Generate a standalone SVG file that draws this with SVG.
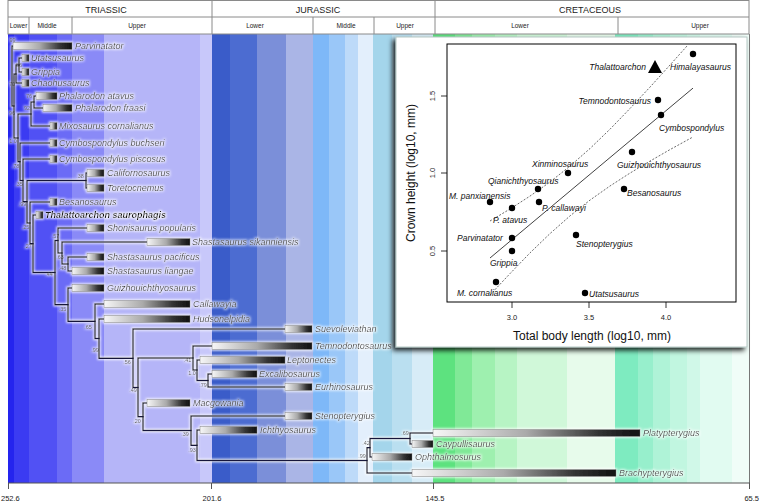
<svg xmlns="http://www.w3.org/2000/svg" width="760" height="504" viewBox="0 0 760 504">
<style>
.hdr{font-family:"Liberation Sans",Arial,sans-serif;font-size:9px;fill:#222;text-anchor:middle}
.sub{font-family:"Liberation Sans",Arial,sans-serif;font-size:6.5px;fill:#222;text-anchor:middle}
.hl{stroke:#8a8a8a;stroke-width:1;fill:none}
.tx{font-family:"Liberation Sans",Arial,sans-serif;font-style:italic;font-size:9px;fill:#151515}
.bar{fill:url(#bg);stroke:#777;stroke-width:0.5}
.br{fill:none;stroke:#15183a;stroke-width:1.5;stroke-linecap:square}
.sup{font-family:"Liberation Sans",Arial,sans-serif;font-size:5.5px;fill:#333;text-anchor:middle}
.ax{font-family:"Liberation Sans",Arial,sans-serif;font-size:7.5px;fill:#222;text-anchor:middle}
.pl{font-family:"Liberation Sans",Arial,sans-serif;font-style:italic;font-size:8.5px;fill:#111}
.ttl{font-family:"Liberation Sans",Arial,sans-serif;font-size:12px;fill:#111;text-anchor:middle}
.pt{fill:#000}
.dash{fill:none;stroke:#444;stroke-width:0.8;stroke-dasharray:2 1.6}
</style>
<defs>
<linearGradient id="bg" x1="0" y1="0" x2="1" y2="0">
<stop offset="0" stop-color="#f7f7f7"/>
<stop offset="0.45" stop-color="#aaaaaa"/>
<stop offset="0.8" stop-color="#333333"/>
<stop offset="1" stop-color="#111111"/>
</linearGradient>
<filter id="halo" filterUnits="userSpaceOnUse" x="0" y="30" width="760" height="470">
<feMorphology in="SourceAlpha" operator="dilate" radius="1" result="d"/>
<feGaussianBlur in="d" stdDeviation="1.3" result="b"/>
<feFlood flood-color="#ffffff" flood-opacity="0.85"/>
<feComposite in2="b" operator="in" result="g"/>
<feMerge><feMergeNode in="g"/><feMergeNode in="SourceGraphic"/></feMerge>
</filter>
<filter id="shadow" x="-6%" y="-6%" width="112%" height="114%">
<feDropShadow dx="-3" dy="3" stdDeviation="2.5" flood-color="#000" flood-opacity="0.85"/>
</filter>
</defs>

<g id="bands">
<rect x="8" y="34" width="6" height="449" fill="#2424ee"/>
<rect x="14" y="34" width="15" height="449" fill="#3b3bf2"/>
<rect x="29" y="34" width="28" height="449" fill="#5151f4"/>
<rect x="57" y="34" width="15" height="449" fill="#6b6bf6"/>
<rect x="72" y="34" width="32" height="449" fill="#8a8af7"/>
<rect x="104" y="34" width="96" height="449" fill="#b5b5f8"/>
<rect x="200" y="34" width="12" height="449" fill="#c8c8fa"/>
<rect x="212" y="34" width="18" height="449" fill="#3a5cc9"/>
<rect x="230" y="34" width="27" height="449" fill="#4c6cd1"/>
<rect x="257" y="34" width="29" height="449" fill="#7b8fd9"/>
<rect x="286" y="34" width="27" height="449" fill="#aab5e6"/>
<rect x="313" y="34" width="16" height="449" fill="#7eb8f8"/>
<rect x="329" y="34" width="16" height="449" fill="#9ac7f8"/>
<rect x="345" y="34" width="13" height="449" fill="#bddaf9"/>
<rect x="358" y="34" width="15" height="449" fill="#e3effc"/>
<rect x="373" y="34" width="19" height="449" fill="#a4d5eb"/>
<rect x="392" y="34" width="20" height="449" fill="#badff0"/>
<rect x="412" y="34" width="21" height="449" fill="#d7ecf7"/>
<rect x="433" y="34" width="22" height="449" fill="#5de27f"/>
<rect x="455" y="34" width="17" height="449" fill="#80e997"/>
<rect x="472" y="34" width="23" height="449" fill="#9ef0af"/>
<rect x="495" y="34" width="22" height="449" fill="#b7f4c4"/>
<rect x="517" y="34" width="50" height="449" fill="#d0f8d9"/>
<rect x="567" y="34" width="48" height="449" fill="#e7fbeb"/>
<rect x="615" y="34" width="23" height="449" fill="#7eebc0"/>
<rect x="638" y="34" width="15" height="449" fill="#97efcc"/>
<rect x="653" y="34" width="17" height="449" fill="#aff3d7"/>
<rect x="670" y="34" width="17" height="449" fill="#c1f6e0"/>
<rect x="687" y="34" width="13" height="449" fill="#d0f8e8"/>
<rect x="700" y="34" width="32" height="449" fill="#e1fbf1"/>
<rect x="732" y="34" width="17" height="449" fill="#f0fdf8"/>
<path d="M749.5 34V483" stroke="#777" stroke-width="1"/>
</g>

<g id="header">
<rect x="8" y="0.5" width="741" height="33.5" fill="#fff" stroke="#8a8a8a"/>
<path class="hl" d="M8 17H749 M212 0.5V34 M435 0.5V34 M29 17V34 M72 17V34 M313 17V34 M374 17V34 M618 17V34"/>
<text class="hdr" x="106" y="13">TRIASSIC</text>
<text class="hdr" x="318" y="13">JURASSIC</text>
<text class="hdr" x="590" y="13">CRETACEOUS</text>
<text class="sub" x="18.5" y="28">Lower</text>
<text class="sub" x="47" y="28">Middle</text>
<text class="sub" x="137" y="28">Upper</text>
<text class="sub" x="255" y="28">Lower</text>
<text class="sub" x="346" y="28">Middle</text>
<text class="sub" x="405" y="28">Upper</text>
<text class="sub" x="520" y="28">Lower</text>
<text class="sub" x="700" y="28">Upper</text>
</g>

<g id="axis">
<path d="M8 483H750 M8.5 483V489 M211.5 483V489 M433.5 483V489 M749.5 483V489" stroke="#555" stroke-width="1" fill="none"/>
<text class="ax" x="1" y="501" style="text-anchor:start">252.6</text>
<text class="ax" x="212" y="501">201.6</text>
<text class="ax" x="435" y="501">145.5</text>
<text class="ax" x="759" y="501" style="text-anchor:end">65.5</text>
</g>

<g id="tree" filter="url(#halo)">
<g id="connectors">
<path class="br" d="M12 46V106 M12 46H13 M12 106H14"/>
<path class="br" d="M14 74V137.9 M14 74H16 M14 137.9H18"/>
<path class="br" d="M16 65V83 M16 65H19 M16 83H22"/>
<path class="br" d="M19 58V72 M19 58H22 M19 72H22"/>
<path class="br" d="M18 114V161.7 M18 114H31 M18 161.7H20"/>
<path class="br" d="M31 102V126 M31 102H34 M31 126H50"/>
<path class="br" d="M34 96V108 M34 96H36 M34 108H43"/>
<path class="br" d="M20 143V180.4 M20 143H50 M20 180.4H23"/>
<path class="br" d="M23 159V201.7 M23 159H50 M23 201.7H27"/>
<path class="br" d="M27 180.5V222.9 M27 180.5H86 M27 222.9H30"/>
<path class="br" d="M86 173V188 M86 173H87 M86 188H87"/>
<path class="br" d="M30 202V243.8 M30 202H50 M30 243.8H33"/>
<path class="br" d="M33 215V272.6 M33 215H36 M33 272.6H55"/>
<path class="br" d="M55 240.5V304.7 M55 240.5H58 M55 304.7H68"/>
<path class="br" d="M58 228V253 M58 228H87 M58 253H62"/>
<path class="br" d="M62 242V264 M62 242H147 M62 264H68"/>
<path class="br" d="M68 257V271 M68 257H87 M68 271H72"/>
<path class="br" d="M68 288V321.3 M68 288H72 M68 321.3H95"/>
<path class="br" d="M95 304V338.6 M95 304H104 M95 338.6H99"/>
<path class="br" d="M99 319V358.2 M99 319H104 M99 358.2H133"/>
<path class="br" d="M133 329V387.4 M133 329H285 M133 387.4H138"/>
<path class="br" d="M138 358V416.8 M138 358H193 M138 416.8H143"/>
<path class="br" d="M193 346V370 M193 346H212 M193 370H197"/>
<path class="br" d="M197 360V380.5 M197 360H200 M197 380.5H208"/>
<path class="br" d="M208 374V387 M208 374H212 M208 387H285"/>
<path class="br" d="M143 403V430.6 M143 403H147 M143 430.6H191"/>
<path class="br" d="M191 416V445.2 M191 416H285 M191 445.2H197"/>
<path class="br" d="M197 430V460.4 M197 430H200 M197 460.4H367"/>
<path class="br" d="M367 447.8V473 M367 447.8H370 M367 473H412"/>
<path class="br" d="M370 438.5V457 M370 438.5H410 M370 457H372"/>
<path class="br" d="M410 433V444 M410 433H433 M410 444H412"/>
</g>

<g id="t-parvinatator"><rect class="bar" x="13" y="42.5" width="59" height="7"/><text class="tx" x="75" y="49">Parvinatator</text></g>
<g id="t-utatsusaurus"><rect class="bar" x="22" y="54.5" width="7" height="7"/><text class="tx" x="31" y="61">Utatsusaurus</text></g>
<g id="t-grippia"><rect class="bar" x="22" y="68.5" width="7" height="7"/><text class="tx" x="31" y="75">Grippia</text></g>
<g id="t-chaohusaurus"><rect class="bar" x="22" y="79.5" width="7" height="7"/><text class="tx" x="31" y="86">Chaohusaurus</text></g>
<g id="t-phalarodon-atavus"><rect class="bar" x="36" y="92.5" width="21" height="7"/><text class="tx" x="59" y="99">Phalarodon atavus</text></g>
<g id="t-phalarodon-fraasi"><rect class="bar" x="43" y="104.5" width="29" height="7"/><text class="tx" x="75" y="111">Phalarodon fraasi</text></g>
<g id="t-mixosaurus"><rect class="bar" x="50" y="122.5" width="7" height="7"/><text class="tx" x="59" y="129">Mixosaurus cornalianus</text></g>
<g id="t-cymbo-buchseri"><rect class="bar" x="50" y="139.5" width="7" height="7"/><text class="tx" x="59" y="146">Cymbospondylus buchseri</text></g>
<g id="t-cymbo-piscosus"><rect class="bar" x="50" y="155.5" width="7" height="7"/><text class="tx" x="59" y="162">Cymbospondylus piscosus</text></g>
<g id="t-californosaurus"><rect class="bar" x="87" y="169.5" width="17" height="7"/><text class="tx" x="107" y="176">Californosaurus</text></g>
<g id="t-toretocnemus"><rect class="bar" x="87" y="184.5" width="17" height="7"/><text class="tx" x="107" y="191">Toretocnemus</text></g>
<g id="t-besanosaurus"><rect class="bar" x="50" y="198.5" width="7" height="7"/><text class="tx" x="59" y="205">Besanosaurus</text></g>
<g id="t-thalattoarchon"><rect class="bar" x="36" y="211.5" width="7" height="7"/><text class="tx" x="45" y="218" font-weight="bold">Thalattoarchon saurophagis</text></g>
<g id="t-shonisaurus"><rect class="bar" x="87" y="224.5" width="17" height="7"/><text class="tx" x="107" y="231">Shonisaurus popularis</text></g>
<g id="t-shasta-sikanniensis"><rect class="bar" x="147" y="238.5" width="43" height="7"/><text class="tx" x="192" y="245">Shastasaurus sikanniensis</text></g>
<g id="t-shasta-pacificus"><rect class="bar" x="87" y="253.5" width="17" height="7"/><text class="tx" x="107" y="260">Shastasaurus pacificus</text></g>
<g id="t-shasta-liangae"><rect class="bar" x="72" y="267.5" width="32" height="7"/><text class="tx" x="107" y="274">Shastasaurus liangae</text></g>
<g id="t-guizhouichthyosaurus"><rect class="bar" x="72" y="284.5" width="32" height="7"/><text class="tx" x="107" y="291">Guizhouichthyosaurus</text></g>
<g id="t-callawayia"><rect class="bar" x="104" y="300.5" width="86" height="7"/><text class="tx" x="193" y="307">Callawayia</text></g>
<g id="t-hudsonelpidia"><rect class="bar" x="104" y="315.5" width="86" height="7"/><text class="tx" x="193" y="322">Hudsonelpidia</text></g>
<g id="t-suevoleviathan"><rect class="bar" x="285" y="325.5" width="27" height="7"/><text class="tx" x="315" y="332">Suevoleviathan</text></g>
<g id="t-temnodontosaurus"><rect class="bar" x="212" y="342.5" width="100" height="7"/><text class="tx" x="315" y="349">Temnodontosaurus</text></g>
<g id="t-leptonectes"><rect class="bar" x="200" y="356.5" width="85" height="7"/><text class="tx" x="287" y="363">Leptonectes</text></g>
<g id="t-excalibosaurus"><rect class="bar" x="212" y="370.5" width="45" height="7"/><text class="tx" x="259" y="377">Excalibosaurus</text></g>
<g id="t-eurhinosaurus"><rect class="bar" x="285" y="383.5" width="27" height="7"/><text class="tx" x="315" y="390">Eurhinosaurus</text></g>
<g id="t-macgowania"><rect class="bar" x="147" y="399.5" width="43" height="7"/><text class="tx" x="193" y="406">Macgowania</text></g>
<g id="t-stenopterygius"><rect class="bar" x="285" y="412.5" width="27" height="7"/><text class="tx" x="315" y="419">Stenopterygius</text></g>
<g id="t-ichthyosaurus"><rect class="bar" x="200" y="426.5" width="57" height="7"/><text class="tx" x="260" y="433">Ichthyosaurus</text></g>
<g id="t-platypterygius"><rect class="bar" x="433" y="429.5" width="207" height="7"/><text class="tx" x="643" y="436">Platypterygius</text></g>
<g id="t-caypullisaurus"><rect class="bar" x="412" y="440.5" width="21" height="7"/><text class="tx" x="436" y="447">Caypullisaurus</text></g>
<g id="t-ophthalmosurus"><rect class="bar" x="372" y="453.5" width="40" height="7"/><text class="tx" x="415" y="460">Ophthalmosurus</text></g>
<g id="t-brachypterygius"><rect class="bar" x="412" y="469.5" width="204" height="7"/><text class="tx" x="619" y="476">Brachypterygius</text></g>

<g id="support">
<text class="sup" x="12.5" y="42">99</text>
<text class="sup" x="19" y="67">56</text>
<text class="sup" x="12" y="86">70</text>
<text class="sup" x="12" y="115">96</text>
<text class="sup" x="29" y="98">76</text>
<text class="sup" x="27" y="110">92</text>
<text class="sup" x="13" y="143">1.0</text>
<text class="sup" x="15.5" y="168">.78</text>
<text class="sup" x="19" y="186">.35</text>
<text class="sup" x="22.5" y="206">.99</text>
<text class="sup" x="25.5" y="229">.25</text>
<text class="sup" x="28" y="248">.27</text>
<text class="sup" x="80" y="178">.38</text>
<text class="sup" x="55.5" y="238">.57</text>
<text class="sup" x="60" y="259">.63</text>
<text class="sup" x="62.5" y="270">.48</text>
<text class="sup" x="49" y="276">.44</text>
<text class="sup" x="62.5" y="311">.35</text>
<text class="sup" x="88" y="329">.65</text>
<text class="sup" x="95" y="352">.99</text>
<text class="sup" x="127" y="364">.56</text>
<text class="sup" x="187.5" y="362">.41</text>
<text class="sup" x="192" y="375">1.0</text>
<text class="sup" x="203" y="387">.79</text>
<text class="sup" x="133" y="392">.49</text>
<text class="sup" x="137" y="423">.20</text>
<text class="sup" x="185" y="436">.39</text>
<text class="sup" x="192" y="452">.93</text>
<text class="sup" x="362" y="458">.99</text>
<text class="sup" x="366" y="445">.42</text>
<text class="sup" x="405" y="435">.69</text>
</g>
</g>

<g id="inset">
<rect x="396" y="37" width="351" height="310" fill="#fff" stroke="#b5c8c4" stroke-width="1" filter="url(#shadow)"/>
<rect x="447" y="44" width="289" height="258" fill="none" stroke="#000" stroke-width="1"/>
<path d="M512 302V308 M589 302V308 M666 302V308 M447 251H441 M447 173H441 M447 96H441" stroke="#000" stroke-width="0.8" fill="none"/>
<text class="ax" x="512" y="320">3.0</text>
<text class="ax" x="589" y="320">3.5</text>
<text class="ax" x="666" y="320">4.0</text>
<text class="ax" x="435" y="251" transform="rotate(-90 435 251)">0.5</text>
<text class="ax" x="435" y="173" transform="rotate(-90 435 173)">1.0</text>
<text class="ax" x="435" y="96" transform="rotate(-90 435 96)">1.5</text>
<text class="ttl" x="592" y="340">Total body length (log10, mm)</text>
<text class="ttl" x="415" y="173" transform="rotate(-90 415 173)">Crown height (log10, mm)</text>
<path d="M490 258L693 88.1" stroke="#111" stroke-width="0.8" fill="none"/>
<polyline class="dash" points="490,221 510,209 530,196.1 550,182 570,166.1 590,148.5 610,129.2 630,108.5 650,87.1 670,65 687,46"/>
<polyline class="dash" points="490,295 510,273.6 530,252.9 550,233.6 570,215.9 590,200.1 610,186 630,173.1 650,161.1 670,149.6 692,137.5"/>
<circle class="pt" cx="693" cy="54" r="3.2"/>
<polygon class="pt" points="648,73 662,73 655,60"/>
<circle class="pt" cx="658" cy="100" r="3.2"/>
<circle class="pt" cx="661" cy="115" r="3.2"/>
<circle class="pt" cx="632" cy="152" r="3.2"/>
<circle class="pt" cx="624" cy="189" r="3.2"/>
<circle class="pt" cx="568" cy="173" r="3.2"/>
<circle class="pt" cx="538" cy="189" r="3.2"/>
<circle class="pt" cx="490" cy="202" r="3.2"/>
<circle class="pt" cx="539" cy="202" r="3.2"/>
<circle class="pt" cx="512" cy="208" r="3.2"/>
<circle class="pt" cx="512" cy="238" r="3.2"/>
<circle class="pt" cx="512" cy="251" r="3.2"/>
<circle class="pt" cx="576" cy="235" r="3.2"/>
<circle class="pt" cx="496" cy="282" r="3.2"/>
<circle class="pt" cx="585" cy="293" r="3.2"/>
<text class="pl" x="670" y="70">Himalayasaurus</text>
<text class="pl" x="646" y="70" text-anchor="end">Thalattoarchon</text>
<text class="pl" x="651" y="104" text-anchor="end">Temnodontosaurus</text>
<text class="pl" x="659" y="131">Cymbospondylus</text>
<text class="pl" x="617" y="168">Guizhouichthyosaurus</text>
<text class="pl" x="627" y="196">Besanosaurus</text>
<text class="pl" x="532" y="167">Xinminosaurus</text>
<text class="pl" x="488" y="184">Qianichthyosaurus</text>
<text class="pl" x="449" y="199">M. panxianensis</text>
<text class="pl" x="542" y="211">P. callawayi</text>
<text class="pl" x="493" y="223">P. atavus</text>
<text class="pl" x="457" y="241">Parvinatator</text>
<text class="pl" x="576" y="247">Stenopterygius</text>
<text class="pl" x="490" y="266">Grippia</text>
<text class="pl" x="457" y="296">M. cornalianus</text>
<text class="pl" x="589" y="297">Utatsusaurus</text>
</g>
</svg>
